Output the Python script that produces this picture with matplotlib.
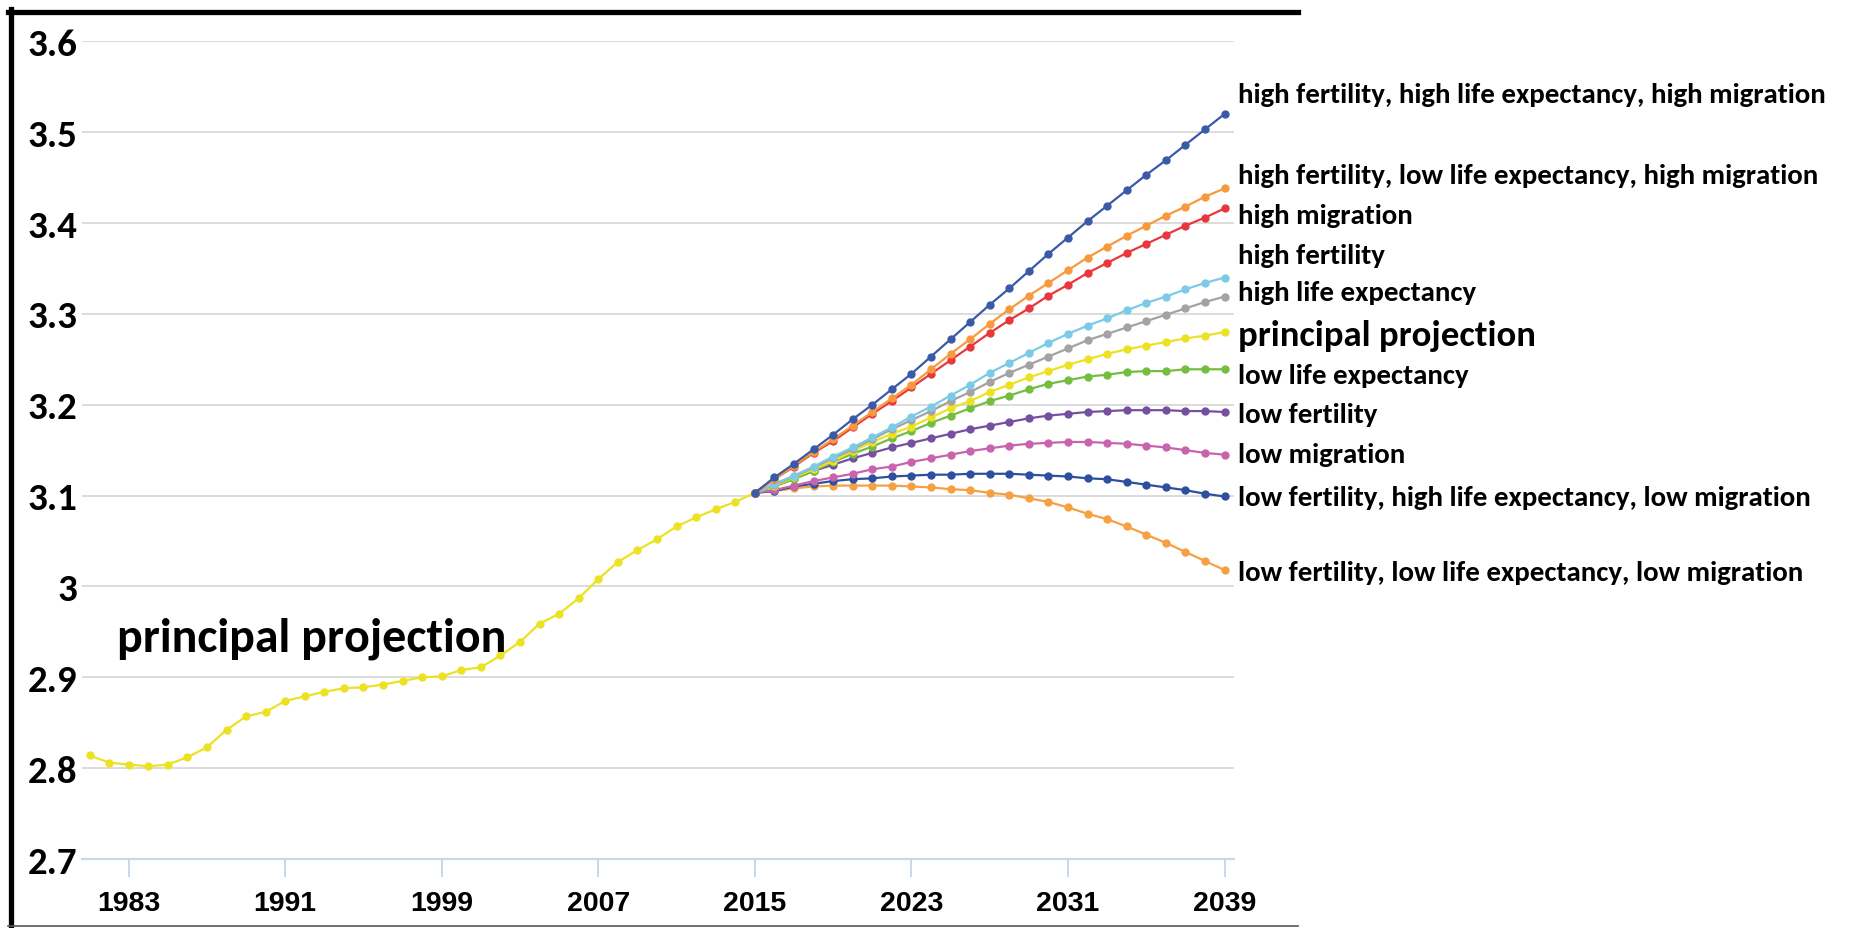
import numpy as np
import matplotlib
matplotlib.use('Agg')
import matplotlib.pyplot as plt
from matplotlib.lines import Line2D
from matplotlib import font_manager

# pick a narrow humanist font close to the original (Calibri-like)
names = {f.name for f in font_manager.fontManager.ttflist}
label_font = next(f for f in ['Carlito', 'Liberation Sans Narrow', 'Open Sans', 'DejaVu Sans'] if f in names)

hist_years = list(range(1981, 2016))
hist_values = [2.814, 2.806, 2.804, 2.802, 2.804, 2.812, 2.823, 2.842, 2.857, 2.862,
               2.874, 2.879, 2.884, 2.888, 2.889, 2.892, 2.896, 2.900, 2.901, 2.908,
               2.911, 2.924, 2.939, 2.959, 2.970, 2.987, 3.008, 3.027, 3.040, 3.052,
               3.066, 3.076, 3.085, 3.093, 3.103]

proj_years = list(range(2015, 2040))
hhh = [3.103, 3.120, 3.135, 3.151, 3.167, 3.184, 3.200, 3.217, 3.234, 3.253, 3.272, 3.291, 3.310,
       3.328, 3.347, 3.366, 3.384, 3.402, 3.419, 3.436, 3.453, 3.469, 3.486, 3.503, 3.520]
hlh = [3.103, 3.118, 3.133, 3.148, 3.162, 3.177, 3.192, 3.207, 3.222, 3.239, 3.256, 3.272, 3.289,
       3.305, 3.320, 3.334, 3.348, 3.362, 3.374, 3.386, 3.397, 3.408, 3.418, 3.429, 3.438]
high_mig = [3.103, 3.118, 3.132, 3.147, 3.160, 3.175, 3.190, 3.204, 3.219, 3.234, 3.249, 3.264, 3.279,
            3.293, 3.306, 3.320, 3.332, 3.345, 3.356, 3.367, 3.377, 3.387, 3.397, 3.406, 3.416]
high_fert = [3.103, 3.113, 3.122, 3.132, 3.143, 3.153, 3.164, 3.175, 3.187, 3.198, 3.210, 3.222, 3.235,
             3.246, 3.257, 3.268, 3.278, 3.287, 3.295, 3.304, 3.312, 3.319, 3.327, 3.334, 3.340]
high_life = [3.103, 3.112, 3.121, 3.131, 3.141, 3.151, 3.162, 3.173, 3.183, 3.193, 3.204, 3.214, 3.225,
             3.235, 3.244, 3.253, 3.262, 3.271, 3.278, 3.285, 3.292, 3.299, 3.306, 3.313, 3.319]
principal = [3.103, 3.111, 3.120, 3.129, 3.138, 3.149, 3.159, 3.168, 3.176, 3.186, 3.196, 3.204, 3.214,
             3.222, 3.230, 3.237, 3.244, 3.250, 3.256, 3.261, 3.265, 3.269, 3.273, 3.276, 3.280]
low_life = [3.103, 3.110, 3.118, 3.127, 3.137, 3.146, 3.154, 3.163, 3.171, 3.180, 3.188, 3.196, 3.204,
            3.210, 3.217, 3.223, 3.227, 3.231, 3.233, 3.236, 3.237, 3.237, 3.239, 3.239, 3.239]
low_fert = [3.103, 3.111, 3.119, 3.127, 3.134, 3.141, 3.147, 3.153, 3.158, 3.163, 3.168, 3.173, 3.177,
            3.181, 3.185, 3.188, 3.190, 3.192, 3.193, 3.194, 3.194, 3.194, 3.193, 3.193, 3.192]
low_mig = [3.103, 3.106, 3.111, 3.116, 3.120, 3.124, 3.129, 3.132, 3.137, 3.141, 3.145, 3.149, 3.152,
           3.155, 3.157, 3.158, 3.159, 3.159, 3.158, 3.157, 3.155, 3.153, 3.150, 3.147, 3.145]
lhl = [3.103, 3.105, 3.110, 3.113, 3.116, 3.118, 3.119, 3.121, 3.122, 3.123, 3.123, 3.124, 3.124,
       3.124, 3.123, 3.122, 3.121, 3.119, 3.118, 3.115, 3.112, 3.109, 3.106, 3.102, 3.099]
lll = [3.103, 3.105, 3.108, 3.110, 3.111, 3.111, 3.111, 3.111, 3.110, 3.109, 3.107, 3.106, 3.103,
       3.101, 3.097, 3.093, 3.087, 3.080, 3.074, 3.066, 3.057, 3.048, 3.038, 3.028, 3.018]

series = [
    ('low fertility, low life expectancy, low migration', lll, '#f5a043'),
    ('low fertility, high life expectancy, low migration', lhl, '#2d4f9e'),
    ('low migration', low_mig, '#c864ad'),
    ('low fertility', low_fert, '#7650a0'),
    ('low life expectancy', low_life, '#74bd3f'),
    ('principal projection', principal, '#ece223'),
    ('high life expectancy', high_life, '#a3a3a3'),
    ('high fertility', high_fert, '#7ccbe6'),
    ('high migration', high_mig, '#e9383d'),
    ('high fertility, low life expectancy, high migration', hlh, '#f79a3e'),
    ('high fertility, high life expectancy, high migration', hhh, '#3a5aa8'),
]
# vertical positions of the end labels (data units), bottom to top
label_y = [3.016, 3.098, 3.146, 3.190, 3.233, 3.277, 3.324, 3.365, 3.409, 3.453, 3.542]

yticks = [2.7, 2.8, 2.9, 3.0, 3.1, 3.2, 3.3, 3.4, 3.5, 3.6]
ytick_labels = ['2.7', '2.8', '2.9', '3', '3.1', '3.2', '3.3', '3.4', '3.5', '3.6']
xticks = [1983, 1991, 1999, 2007, 2015, 2023, 2031, 2039]

W, H = 1868, 929
fig = plt.figure(figsize=(W / 100, H / 100), dpi=100)
fig.patch.set_facecolor('white')
ax = fig.add_axes([81.7 / W, 1 - 860 / H, (1234.3 - 81.7) / W, (860 - 42.3) / H])
ax.set_xlim(1980.6, 2039.5)
ax.set_ylim(2.7, 3.6)
for s in ax.spines.values():
    s.set_visible(False)

for yv in yticks[1:]:
    ax.axhline(yv, color='#dcdcdc', lw=1.4, zorder=0)
ax.axhline(2.7, color='#c9d7ea', lw=1.6, zorder=0, clip_on=False)

ax.set_yticks(yticks)
ax.set_yticklabels(ytick_labels, fontfamily=label_font, fontweight='bold', fontsize=28)
ax.set_xticks(xticks)
ax.set_xticklabels([str(x) for x in xticks], fontfamily='Liberation Sans', fontweight='bold', fontsize=20.5)
ax.tick_params(axis='y', length=0, pad=3)
ax.tick_params(axis='x', length=13, width=1.4, color='#c9d7ea', pad=9, direction='out')

ax.plot(hist_years, hist_values, color='#ece223', lw=1.6, marker='o', ms=5, zorder=3)
for (name, vals, col), ly in zip(series, label_y):
    ax.plot(proj_years, vals, color=col, lw=1.6, marker='o', ms=5, zorder=3)
    big = name == 'principal projection'
    ax.text(2039.7, ly, name, fontfamily=label_font, fontweight='bold',
            fontsize=26.5 if big else 20.8, va='center', ha='left', clip_on=False)

ax.text(1982.4, 2.943, 'principal projection', fontfamily=label_font, fontweight='bold',
        fontsize=34.5, va='center', ha='left')

# thick frame on left and top, thin grey at bottom
fig.add_artist(Line2D([10.5 / W, 10.5 / W], [0, 1 - 10 / H], color='black', lw=3.8))
fig.add_artist(Line2D([8 / W, 1298 / W], [1 - 12.5 / H, 1 - 12.5 / H], color='black', lw=3.8))
fig.add_artist(Line2D([8 / W, 1298 / W], [1 - 927 / H, 1 - 927 / H], color='#555555', lw=1.2))

fig.savefig('out.png', dpi=100, facecolor='white')
